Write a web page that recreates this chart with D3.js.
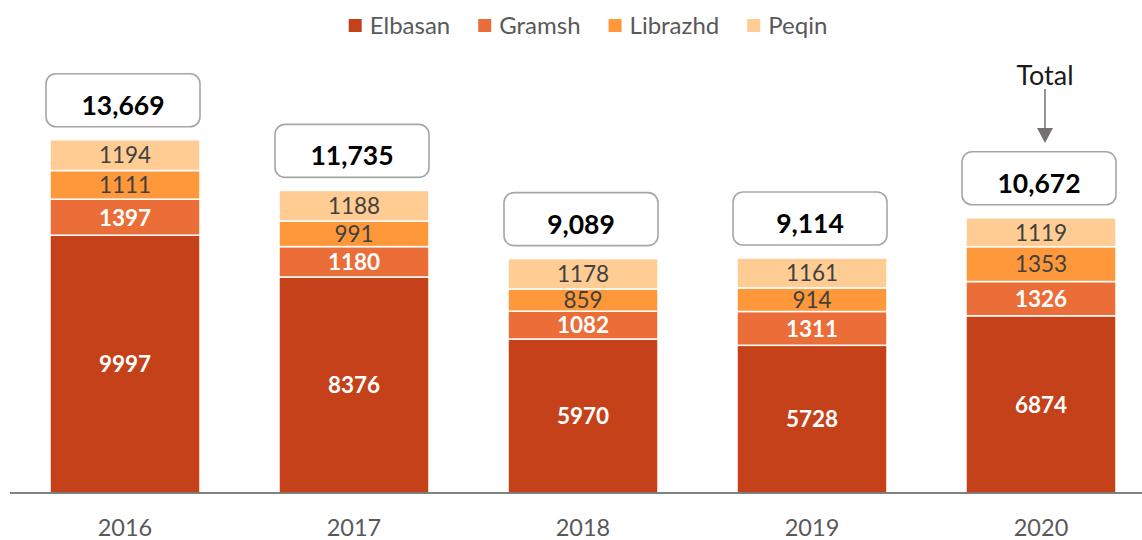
<!DOCTYPE html>
<html><head><meta charset="utf-8">
<script src="https://cdn.jsdelivr.net/npm/d3@7"></script>
<style>
html,body{margin:0;padding:0;background:#fff;}
svg{display:block;font-family:Lato, "Open Sans", sans-serif;}
</style></head>
<body>
<svg id="chart" width="1142" height="540"></svg>
<script>
const years = ["2016","2017","2018","2019","2020"];
const seriesNames = ["Elbasan","Gramsh","Librazhd","Peqin"];
const elbasan = [9997, 8376, 5970, 5728, 6874];
const gramsh = [1397, 1180, 1082, 1311, 1326];
const librazhd = [1111, 991, 859, 914, 1353];
const peqin = [1194, 1188, 1178, 1161, 1119];
const totals = [13669, 11735, 9089, 9114, 10672];
const colors = ["#C4411A", "#EB6D38", "#FE983A", "#FFCC94"];
const labelColors = ["#ffffff", "#ffffff", "#404040", "#404040"];
const labelWeights = ["bold", "bold", "normal", "normal"];

const svg = d3.select("#chart");
const baseY = 493;
const x = d3.scaleBand().domain(years).range([50, 1116]).paddingInner(0.345).paddingOuter(0);
const y = d3.scaleLinear().domain([0, 14000]).range([baseY, 132]);

const table = years.map((yr, i) => ({year: yr, Elbasan: elbasan[i], Gramsh: gramsh[i], Librazhd: librazhd[i], Peqin: peqin[i], total: totals[i]}));
const stacked = d3.stack().keys(seriesNames)(table);

const layers = svg.append("g").selectAll("g").data(stacked).join("g")
  .attr("fill", (d, i) => colors[i]);
layers.selectAll("rect").data(d => d).join("rect")
  .attr("x", d => x(d.data.year))
  .attr("width", x.bandwidth())
  .attr("y", d => y(d[1]))
  .attr("height", d => y(d[0]) - y(d[1]))
  .attr("stroke", "#fff").attr("stroke-width", 1.5);

// segment labels
stacked.forEach((layer, li) => {
  svg.append("g").selectAll("text").data(layer).join("text")
    .attr("x", d => x(d.data.year) + x.bandwidth() / 2)
    .attr("y", d => (y(d[0]) + y(d[1])) / 2)
    .attr("dy", "0.37em")
    .attr("text-anchor", "middle")
    .attr("font-size", 22.5)
    .attr("font-weight", labelWeights[li])
    .attr("fill", labelColors[li])
    .text(d => d.data[layer.key]);
});

// total boxes
const fmt = d3.format(",");
const boxes = svg.append("g").selectAll("g").data(table).join("g")
  .attr("transform", d => {
    const top = y(d.Elbasan + d.Gramsh + d.Librazhd + d.Peqin);
    return `translate(${x(d.year) + x.bandwidth() / 2 - 2},${top - 13 - 53})`;
  });
boxes.append("rect")
  .attr("x", -77).attr("y", 0).attr("width", 154).attr("height", 53)
  .attr("rx", 10).attr("ry", 10)
  .attr("fill", "#fff").attr("stroke", "#A6A6A6").attr("stroke-width", 1.6);
boxes.append("text")
  .attr("x", 0).attr("y", 41)
  .attr("text-anchor", "middle")
  .attr("font-size", 26.5).attr("font-weight", "bold").attr("fill", "#000")
  .text(d => fmt(d.total));

// axis
svg.append("line").attr("x1", 10).attr("x2", 1142).attr("y1", baseY).attr("y2", baseY)
  .attr("stroke", "#595959").attr("stroke-width", 1.5);
const ax = svg.append("g").attr("transform", `translate(0,${baseY})`)
  .call(d3.axisBottom(x).tickSize(0).tickPadding(26));
ax.select(".domain").remove();
ax.selectAll("text").attr("font-size", 23.5).attr("fill", "#595959").attr("font-family", "Lato, 'Open Sans', sans-serif");

// legend
const legend = svg.append("g");
let lx = 0;
seriesNames.forEach((name, i) => {
  const g = legend.append("g");
  g.append("rect").attr("x", 0).attr("y", -6.5).attr("width", 13).attr("height", 13).attr("fill", colors[i]);
  const t = g.append("text").attr("x", 21).attr("dy", "0.37em").attr("font-size", 24).attr("fill", "#595959").text(name);
  const w = 21 + t.node().getComputedTextLength();
  g.attr("transform", `translate(${lx},0)`);
  lx += w + 28;
});
const legendWidth = lx - 28;
legend.attr("transform", `translate(${588 - legendWidth / 2},25.5)`);

// Total annotation
const lastX = x(years[years.length - 1]) + x.bandwidth() / 2 + 4;
svg.append("text").attr("x", lastX).attr("y", 85).attr("text-anchor", "middle")
  .attr("font-size", 27).attr("fill", "#1a1a1a").text("Total");
svg.append("line").attr("x1", lastX).attr("x2", lastX).attr("y1", 89).attr("y2", 130)
  .attr("stroke", "#767171").attr("stroke-width", 1.5);
svg.append("path").attr("d", `M${lastX - 8},128 L${lastX + 8},128 L${lastX},143 Z`).attr("fill", "#767171");
</script>
</body></html>
